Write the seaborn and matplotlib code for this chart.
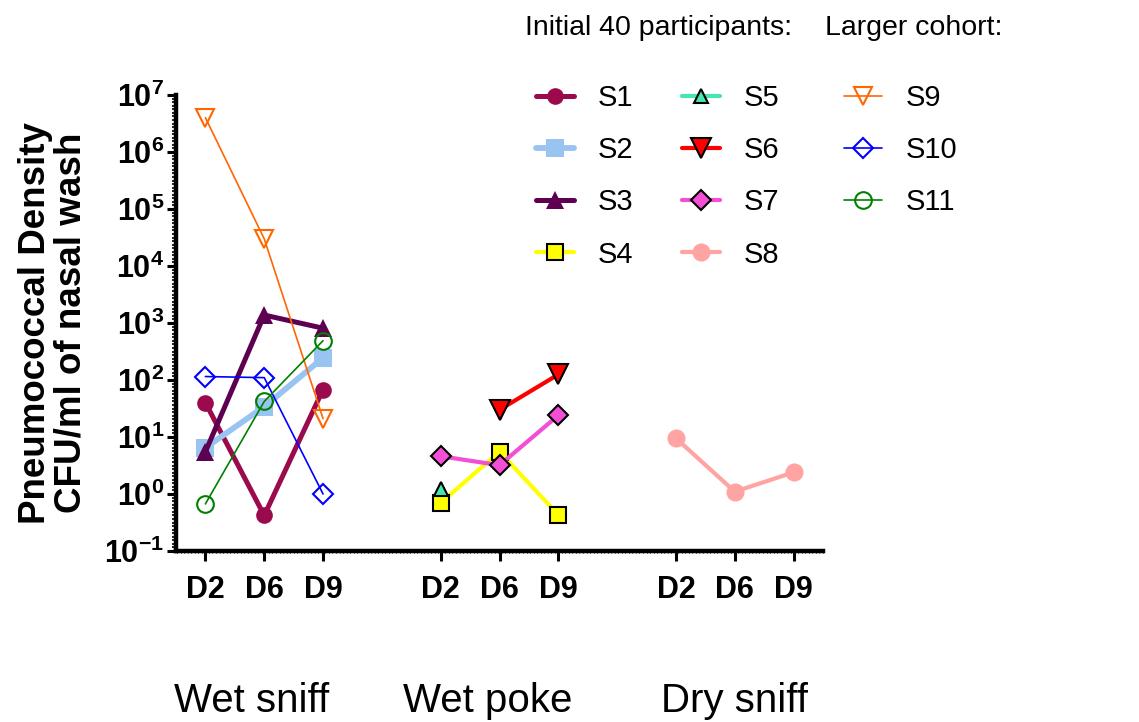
import numpy as np
import pandas as pd
import matplotlib
matplotlib.use("Agg")
import matplotlib.pyplot as plt
import matplotlib.ticker as mticker
import seaborn as sns

# ---- data -------------------------------------------------------------
groups = ["Wet sniff", "Wet poke", "Dry sniff"]
days = ["D2", "D6", "D9"]

# CFU/ml per subject at D2/D6/D9 (None = not sampled)
s1 = [40, 0.42, 68]
s2 = [6.5, 34, 245]
s3 = [5.5, 1380, 810]
s4 = [0.7, 5.5, 0.43]
s5 = [1.2, None, None]
s6 = [None, 30, 125]
s7 = [4.6, 3.2, 24]
s8 = [9.5, 1.1, 2.4]
s9 = [4.0e6, 3.0e4, 21]
s10 = [115, 110, 1.0]
s11 = [0.67, 42, 490]

subject_group = {
    "S1": "Wet sniff", "S2": "Wet sniff", "S3": "Wet sniff",
    "S4": "Wet poke", "S5": "Wet poke", "S6": "Wet poke", "S7": "Wet poke",
    "S8": "Dry sniff",
    "S9": "Wet sniff", "S10": "Wet sniff", "S11": "Wet sniff",
}
subject_values = {
    "S1": s1, "S2": s2, "S3": s3, "S4": s4, "S5": s5, "S6": s6,
    "S7": s7, "S8": s8, "S9": s9, "S10": s10, "S11": s11,
}

# ---- styles -----------------------------------------------------------
styles = {
    "S1": dict(color="#9C0A4E", marker="o", ms=12, lw=3.6, mfc="#9C0A4E", mec="#9C0A4E", mew=0),
    "S2": dict(color="#99C4F2", marker="s", ms=13, lw=4.2, mfc="#99C4F2", mec="#99C4F2", mew=0),
    "S3": dict(color="#5E0052", marker="^", ms=13, lw=3.6, mfc="#5E0052", mec="#5E0052", mew=0),
    "S4": dict(color="#FFFF00", marker="s", ms=12, lw=3.0, mfc="#FFFF00", mec="black", mew=1.5),
    "S5": dict(color="#47E6B0", marker="^", ms=10, lw=3.0, mfc="#47E6B0", mec="black", mew=1.5),
    "S6": dict(color="#FF0000", marker="v", ms=14, lw=3.0, mfc="#FF0000", mec="black", mew=1.5),
    "S7": dict(color="#F24FD6", marker="D", ms=10.5, lw=3.0, mfc="#F24FD6", mec="black", mew=1.5),
    "S8": dict(color="#FFA3A3", marker="o", ms=13, lw=3.0, mfc="#FFA3A3", mec="#FFA3A3", mew=0),
    "S9": dict(color="#FF6600", marker="v", ms=13, lw=1.2, mfc="none", mec="#FF6600", mew=1.5),
    "S10": dict(color="#0000FF", marker="D", ms=10.5, lw=1.2, mfc="none", mec="#0000FF", mew=1.5),
    "S11": dict(color="#008000", marker="o", ms=12, lw=1.2, mfc="none", mec="#008000", mew=1.5),
}

# ---- long-form table --------------------------------------------------
rows = []
for subj, vals in subject_values.items():
    g = groups.index(subject_group[subj])
    for d, v in enumerate(vals):
        if v is not None:
            rows.append(dict(subject=subj, group=subject_group[subj], day=days[d],
                             xpos=g * 4 + d, cfu=v))
df = pd.DataFrame(rows)

# ---- figure -----------------------------------------------------------
sns.set_theme(style="white")
plt.rcParams["font.family"] = ["Liberation Sans", "DejaVu Sans"]
plt.rcParams["mathtext.fontset"] = "custom"
plt.rcParams["mathtext.rm"] = "Liberation Sans"
plt.rcParams["mathtext.bf"] = "Liberation Sans:bold"
for key in ["text.color", "axes.labelcolor", "xtick.color", "ytick.color"]:
    plt.rcParams[key] = "black"

fig = plt.figure(figsize=(11.39, 7.22), dpi=100)
ax = fig.add_axes([176 / 1139, 1 - 551 / 722, (823 - 176) / 1139, (551 - 95) / 722])

handles = {}
for subj in subject_values:
    st = styles[subj]
    sub = df[df.subject == subj]
    sns.lineplot(data=sub, x="xpos", y="cfu", ax=ax, color=st["color"],
                 linewidth=st["lw"], marker=st["marker"], markersize=st["ms"],
                 markerfacecolor=st["mfc"], markeredgecolor=st["mec"],
                 markeredgewidth=st["mew"], label=subj, legend=False,
                 estimator=None, sort=True, clip_on=False)
    handles[subj] = ax.lines[-1]

ax.set_yscale("log")
ax.set_ylim(0.1, 1e7)
ax.set_xlim(-0.5, 10.5)

# x ticks: three day labels per group
xt = [g * 4 + d for g in range(len(groups)) for d in range(len(days))]
ax.set_xticks(xt)
ax.set_xticklabels(days * len(groups), fontsize=22, fontweight="bold")
ax.xaxis.set_minor_locator(mticker.MultipleLocator(0.06))

# y ticks: powers of ten with fine ruler-like minor ticks
ax.yaxis.set_major_locator(mticker.FixedLocator([10.0 ** k for k in range(-1, 8)]))
ax.yaxis.set_major_formatter(mticker.FuncFormatter(
    lambda v, p: r"$\mathbf{10^{%d}}$" % round(np.log10(v))))
minor = [10.0 ** (k + j / 16) for k in range(-1, 7) for j in range(1, 16)]
ax.yaxis.set_minor_locator(mticker.FixedLocator(minor))
ax.yaxis.set_minor_formatter(mticker.NullFormatter())
for lab in ax.get_yticklabels():
    lab.set_fontsize(22)

ax.tick_params(axis="y", which="major", direction="out", length=6.5, width=2.2,
               pad=2, colors="black", left=True)
ax.tick_params(axis="y", which="minor", direction="out", length=3, width=1.2,
               colors="black", left=True)
ax.tick_params(axis="x", which="major", direction="out", length=7, width=2.2,
               pad=10, colors="black", bottom=True)
ax.tick_params(axis="x", which="minor", direction="out", length=1.2, width=0.8,
               colors="black", bottom=True)

for side in ["top", "right"]:
    ax.spines[side].set_visible(False)
for side in ["left", "bottom"]:
    ax.spines[side].set_linewidth(3.2)
    ax.spines[side].set_color("black")
ax.grid(False)
ax.set_xlabel("")
ax.set_ylabel("Pneumococcal Density\nCFU/ml of nasal wash", fontsize=26.5,
              fontweight="bold", linespacing=1.0)
ax.yaxis.set_label_coords(-0.136, 0.5)

# group names under the day labels
group_x = [0.78, 4.8, 9.0]
for gx, name in zip(group_x, groups):
    ax.text(gx, -0.33, name, transform=ax.get_xaxis_transform(), ha="center",
            va="center", fontsize=29, clip_on=False)

# ---- legends ----------------------------------------------------------
fig.text(525 / 1139, 1 - 28 / 722, "Initial 40 participants:", fontsize=20.5,
         va="center", ha="left")
fig.text(825 / 1139, 1 - 28 / 722, "Larger cohort:", fontsize=20.5,
         va="center", ha="left")

leg_kw = dict(frameon=False, loc="upper left", borderpad=0, borderaxespad=0,
              handlelength=1.3, handletextpad=0.8, labelspacing=0.83,
              prop=dict(size=21))
first = ["S1", "S2", "S3", "S4", "S5", "S6", "S7", "S8"]
leg1 = fig.legend([handles[s] for s in first], first, ncol=2, columnspacing=1.7,
                  bbox_to_anchor=(536 / 1139, 1 - 84 / 722), **leg_kw)
second = ["S9", "S10", "S11"]
leg2 = fig.legend([handles[s] for s in second], second,
                  bbox_to_anchor=(844 / 1139, 1 - 84 / 722), **leg_kw)

fig.savefig("out.png", dpi=100)
